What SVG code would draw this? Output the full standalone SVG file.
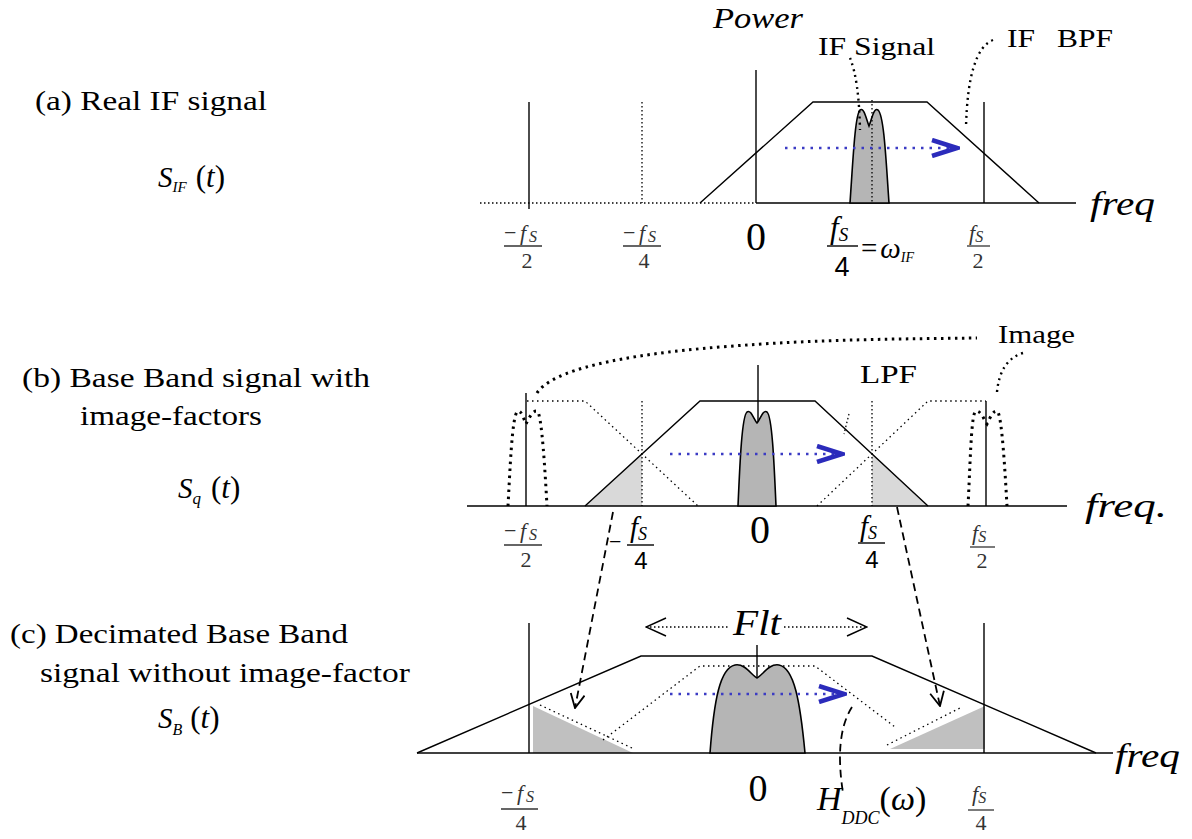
<svg xmlns="http://www.w3.org/2000/svg" width="1192" height="839" viewBox="0 0 1192 839" font-family="Liberation Serif, serif">
<style>
text{fill:#000}
.lbl{font-size:28px}
.it{font-style:italic}
.sm{font-size:22px}
.sm text{fill:#333}
.ax{stroke:#000;stroke-width:1.6;fill:none}
.ln{stroke:#000;stroke-width:1.4;fill:none}
.dt{stroke:#000;stroke-width:1.3;fill:none;stroke-dasharray:1.5 2.5}
.dtf{stroke:#000;stroke-width:1.3;fill:none;stroke-dasharray:1.5 3.5}
.dtk{stroke:#000;stroke-width:3;fill:none;stroke-dasharray:2.5 4.5}
.dtm{stroke:#000;stroke-width:2.4;fill:none;stroke-dasharray:2 4}
.blue{stroke:#3b3bc4;stroke-width:2.6;fill:none;stroke-dasharray:2.5 6}
.dash{stroke:#000;stroke-width:1.8;fill:none;stroke-dasharray:8 5}
.sig{fill:#b5b5b5;stroke:#000;stroke-width:1.6}
.lg{fill:#d9d9d9}
.dg{fill:#c0c0c0}
.fr{stroke:#333;stroke-width:1.3}
</style>
<defs>
<marker id="vopen" viewBox="0 0 16 16" refX="15" refY="8" markerWidth="16" markerHeight="16" markerUnits="userSpaceOnUse" orient="auto"><path d="M1,1 L15,8 L1,15" fill="none" stroke="#000" stroke-width="1.8"/></marker>
<marker id="bchev" viewBox="0 0 30 20" refX="28" refY="10" markerWidth="30" markerHeight="20" markerUnits="userSpaceOnUse" orient="auto"><path d="M2,2 L27,10 L2,18" fill="none" stroke="#2b2bbb" stroke-width="4.5"/></marker>
<marker id="flt" viewBox="0 0 22 20" refX="21" refY="10" markerWidth="22" markerHeight="20" markerUnits="userSpaceOnUse" orient="auto-start-reverse"><path d="M1,1 L21,10 L1,19" fill="none" stroke="#000" stroke-width="1.5"/></marker>
</defs>
<rect width="1192" height="839" fill="#fff"/>

<!-- left labels -->
<g id="label-a">
<text class="lbl" x="35" y="110" textLength="232" lengthAdjust="spacingAndGlyphs">(a) Real IF signal</text>
<text x="158" y="187" font-size="29"><tspan class="it">S</tspan><tspan class="it" font-size="15" dy="5">IF</tspan><tspan dy="-5" dx="9" font-size="31">(</tspan><tspan class="it" font-size="31">t</tspan><tspan font-size="31">)</tspan></text>
</g>
<g id="label-b">
<text class="lbl" x="22" y="387" textLength="348" lengthAdjust="spacingAndGlyphs">(b) Base Band signal with</text>
<text class="lbl" x="80" y="425" textLength="182" lengthAdjust="spacingAndGlyphs">image-factors</text>
<text x="178" y="498" font-size="29"><tspan class="it">S</tspan><tspan class="it" font-size="17" dy="6">q</tspan><tspan dy="-6" dx="10" font-size="31">(</tspan><tspan class="it" font-size="31">t</tspan><tspan font-size="31">)</tspan></text>
</g>
<g id="label-c">
<text class="lbl" x="10" y="643" textLength="338" lengthAdjust="spacingAndGlyphs">(c) Decimated Base Band</text>
<text class="lbl" x="40" y="682" textLength="370" lengthAdjust="spacingAndGlyphs">signal without image-factor</text>
<text x="158" y="728" font-size="29"><tspan class="it">S</tspan><tspan class="it" font-size="16" dy="7">B</tspan><tspan dy="-7" dx="8" font-size="31">(</tspan><tspan class="it" font-size="31">t</tspan><tspan font-size="31">)</tspan></text>
</g>

<!-- panel a -->
<g id="panel-a">
<text class="it" x="713" y="28" font-size="30" textLength="90" lengthAdjust="spacingAndGlyphs">Power</text>
<line class="dt" x1="480" y1="203" x2="757" y2="203"/>
<line class="ax" x1="757" y1="203" x2="1076" y2="203"/>
<line class="ln" x1="529" y1="102" x2="529" y2="209"/>
<line class="dt" x1="642" y1="102" x2="642" y2="203"/>
<line class="ln" x1="756" y1="70" x2="756" y2="203"/>
<line class="ln" x1="984" y1="102" x2="984" y2="203"/>
<polyline class="ln" points="700,203 813,102 927,102 1039,203"/>
<path class="sig" d="M850,203 C853,160 855,115 860,110 C864,107 866,118 869,126 C872,118 874,107 878,110 C884,115 886,160 889,203 Z"/>
<line class="dt" x1="872" y1="100" x2="872" y2="203"/>
<text class="it" x="1090" y="215" font-size="34" textLength="65" lengthAdjust="spacingAndGlyphs">freq</text>
<text x="818" y="55" font-size="25" textLength="117" lengthAdjust="spacingAndGlyphs">IF Signal</text>
<text x="1007" y="47" font-size="25"><tspan textLength="28" lengthAdjust="spacingAndGlyphs">IF</tspan><tspan x="1057" textLength="56" lengthAdjust="spacingAndGlyphs">BPF</tspan></text>
<g class="sm"><text x="504" y="240"><tspan>−</tspan><tspan class="it" x="520">f</tspan><tspan class="it" font-size="16" x="529" dy="2">S</tspan></text>
<line class="fr" x1="504" y1="246" x2="542" y2="246"/><text x="527" y="268" text-anchor="middle">2</text></g>
<g class="sm"><text x="623" y="240"><tspan>−</tspan><tspan class="it" x="639">f</tspan><tspan class="it" font-size="16" x="648" dy="2">S</tspan></text>
<line class="fr" x1="623" y1="246" x2="661" y2="246"/><text x="644" y="268" text-anchor="middle">4</text></g>
<text x="756" y="250" font-size="40" text-anchor="middle">0</text>
<text x="830" y="238" font-size="31"><tspan class="it">f</tspan><tspan class="it" font-size="19" dy="3">S</tspan></text>
<line class="ln" x1="827" y1="246" x2="858" y2="246"/>
<text font-family="Liberation Sans, sans-serif" x="842" y="276" font-size="27" text-anchor="middle">4</text>
<text x="861" y="258" font-size="29"><tspan>=</tspan><tspan class="it" dx="3">ω</tspan><tspan class="it" font-size="14" dy="4">IF</tspan></text>
<g class="sm"><text x="969" y="240"><tspan class="it">f</tspan><tspan class="it" font-size="16" dy="2">S</tspan></text>
<line class="fr" x1="967" y1="246" x2="990" y2="246"/><text x="978" y="268" text-anchor="middle">2</text></g>
</g>

<!-- panel b -->
<g id="panel-b">
<polygon class="lg" points="585,506 642,453 642,506"/>
<polygon class="lg" points="872,453 872,506 928,506"/>
<line class="ax" x1="467" y1="506" x2="1067" y2="506"/>
<line class="ln" x1="526" y1="393" x2="526" y2="506"/>
<line class="dt" x1="642" y1="401" x2="642" y2="506"/>
<line class="ln" x1="758" y1="365" x2="758" y2="506"/>
<line class="dt" x1="872" y1="401" x2="872" y2="506"/>
<line class="ln" x1="986" y1="401" x2="986" y2="506"/>
<polyline class="ln" points="585,506 700,401 815,401 928,506"/>
<polyline class="dtf" points="527,401 585,401 698,506"/>
<polyline class="dtf" points="817,506 928,401 986,401"/>
<path class="sig" d="M738,506 C740,460 742,416 747,412 C751,409 754,420 757,423 C760,420 763,409 767,412 C772,416 774,460 776,506 Z"/>
<path class="dtk" d="M508,506 C510,470 512,418 517,412 C521,408 524,420 526,424 C529,418 534,408 538,412 C542,420 545,470 547,506"/>
<path class="dtk" d="M968,506 C970,470 971,418 975,412 C980,408 984,420 987,424 C990,418 994,408 998,412 C1002,420 1005,470 1007,506"/>
<text class="it" x="1085" y="517" font-size="34" textLength="82" lengthAdjust="spacingAndGlyphs">freq.</text>
<text x="998" y="343" font-size="25" textLength="77" lengthAdjust="spacingAndGlyphs">Image</text>
<text x="860" y="383" font-size="25" textLength="57" lengthAdjust="spacingAndGlyphs">LPF</text>
<g class="sm"><text x="504" y="538"><tspan>−</tspan><tspan class="it" x="520">f</tspan><tspan class="it" font-size="16" x="529" dy="2">S</tspan></text>
<line class="fr" x1="504" y1="545" x2="542" y2="545"/><text x="526" y="567" text-anchor="middle">2</text></g>
<text x="609" y="549" font-size="22">−</text>
<text x="630" y="537" font-size="29"><tspan class="it">f</tspan><tspan class="it" font-size="18" dy="3">S</tspan></text>
<line class="ln" x1="627" y1="545" x2="654" y2="545"/>
<text font-family="Liberation Sans, sans-serif" x="641" y="569" font-size="24" text-anchor="middle">4</text>
<text x="760" y="543" font-size="40" text-anchor="middle">0</text>
<text x="860" y="536" font-size="29"><tspan class="it">f</tspan><tspan class="it" font-size="18" dy="3">S</tspan></text>
<line class="ln" x1="858" y1="543" x2="885" y2="543"/>
<text font-family="Liberation Sans, sans-serif" x="872" y="568" font-size="24" text-anchor="middle">4</text>
<g class="sm"><text x="972" y="540"><tspan class="it">f</tspan><tspan class="it" font-size="16" dy="2">S</tspan></text>
<line class="fr" x1="970" y1="547" x2="995" y2="547"/><text x="982" y="568" text-anchor="middle">2</text></g>
</g>

<!-- panel c -->
<g id="panel-c">
<polygon class="dg" points="533,706 533,753 633,753"/>
<polygon class="dg" points="985,706 985,749 890,749"/>
<line class="ax" x1="417" y1="753" x2="1113" y2="753"/>
<line class="ln" x1="529" y1="623" x2="529" y2="753"/>
<line class="ln" x1="757" y1="645" x2="757" y2="753"/>
<line class="ln" x1="984" y1="623" x2="984" y2="753"/>
<polyline class="ln" points="417,753 641,656 872,656 1096,753"/>
<polyline class="dtf" points="603,740 700,666 815,666 895,727"/>
<line class="dtf" x1="540" y1="705" x2="632" y2="748"/>
<line class="dtf" x1="887" y1="745" x2="962" y2="707"/>
<path class="sig" d="M710,753 C714,700 720,668 735,665 C745,663 752,676 757,678 C762,676 769,663 779,665 C794,668 800,700 805,753 Z"/>
<text class="it" x="1115" y="767" font-size="34" textLength="65" lengthAdjust="spacingAndGlyphs">freq</text>
<text class="it" x="733" y="635" font-size="36" textLength="48" lengthAdjust="spacingAndGlyphs">Flt</text>
<g class="sm"><text x="501" y="800"><tspan>−</tspan><tspan class="it" x="517">f</tspan><tspan class="it" font-size="16" x="526" dy="2">S</tspan></text>
<line class="fr" x1="501" y1="809" x2="538" y2="809"/><text x="521" y="830" text-anchor="middle">4</text></g>
<text x="758" y="801" font-size="38" text-anchor="middle">0</text>
<g class="sm"><text x="972" y="801"><tspan class="it">f</tspan><tspan class="it" font-size="16" dy="2">S</tspan></text>
<line class="fr" x1="968" y1="810" x2="994" y2="810"/><text x="981" y="830" text-anchor="middle">4</text></g>
<text x="817" y="810" font-size="34"><tspan class="it">H</tspan><tspan class="it" font-size="18" dy="14">DDC</tspan><tspan dy="-14">(</tspan><tspan class="it">ω</tspan><tspan>)</tspan></text>
</g>

<!-- connectors -->
<g id="connectors">
<line class="blue" x1="785" y1="148" x2="958" y2="148" marker-end="url(#bchev)"/>
<line class="blue" x1="670" y1="454" x2="843" y2="454" marker-end="url(#bchev)"/>
<line class="blue" x1="670" y1="694" x2="845" y2="694" marker-end="url(#bchev)"/>
<path class="dtm" d="M850,58 Q859,80 860,130"/>
<path class="dtm" d="M993,40 Q968,50 966,127"/>
<path class="dtk" d="M537,393 C552,370 620,355 720,347 S900,339 977,338"/>
<path class="dtm" d="M1023,353 Q1000,360 997,392"/>
<line class="dt" x1="849" y1="414" x2="844" y2="434"/>
<line class="dash" x1="613" y1="512" x2="575" y2="708" marker-end="url(#vopen)"/>
<line class="dash" x1="897" y1="507" x2="940" y2="706" marker-end="url(#vopen)"/>
<line class="dt" x1="646" y1="627" x2="728" y2="627" marker-start="url(#flt)"/>
<line class="dt" x1="784" y1="627" x2="867" y2="627" marker-end="url(#flt)"/>
<path class="dash" d="M852,707 Q834,735 843,793"/>
</g>
</svg>
